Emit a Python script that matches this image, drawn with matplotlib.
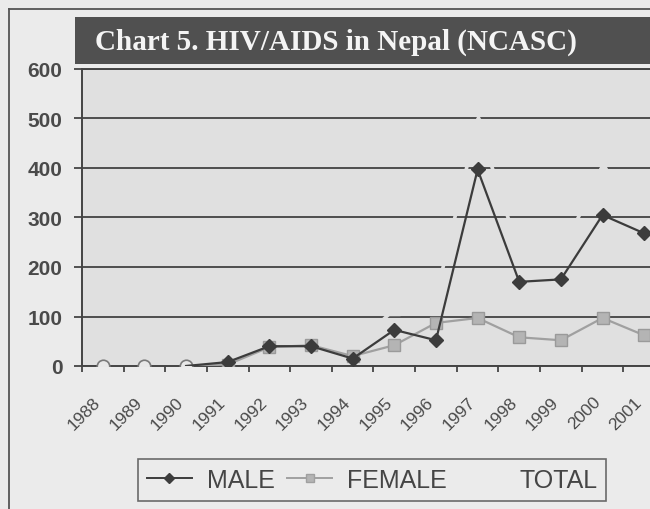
import matplotlib
matplotlib.use("Agg")
import matplotlib.pyplot as plt
from matplotlib.lines import Line2D
from matplotlib.patches import Rectangle

# data
years = ["1988", "1989", "1990", "1991", "1992", "1993", "1994",
         "1995", "1996", "1997", "1998", "1999", "2000", "2001"]
male = [None, None, 0, 8, 40, 40, 15, 73, 52, 397, 170, 175, 305, 268]
female = [None, None, 0, 3, 38, 42, 20, 42, 87, 97, 58, 52, 97, 62]
total = [0, 0, 0, 11, 78, 82, 35, 115, 139, 494, 228, 227, 402, 330]
yticks = [0, 100, 200, 300, 400, 500, 600]

plt.rcParams["font.family"] = ["Liberation Sans", "DejaVu Sans"]

fig = plt.figure(figsize=(6.5, 5.1), dpi=100)
fig.patch.set_facecolor("#ebebeb")

# outer frame of the scanned chart (left and top edges only visible)
fig.add_artist(Line2D([9 / 650, 9 / 650], [0, 1 - 10 / 510], color="#555555", lw=1.3))
fig.add_artist(Line2D([9 / 650, 1], [1 - 10 / 510, 1 - 10 / 510], color="#555555", lw=1.3))

# title banner
fig.add_artist(Rectangle((75 / 650, 1 - 65 / 510), 1, 47 / 510, transform=fig.transFigure,
                         facecolor="#505050", edgecolor="none"))
fig.text(95 / 650, 1 - 42 / 510, "Chart 5. HIV/AIDS in Nepal (NCASC)", color="#f4f4f4",
         family=["Liberation Serif", "DejaVu Serif"], fontweight="bold", fontsize=21,
         va="center", ha="left")

bg = "#e0e0e0"
ax = fig.add_axes([82 / 650, 1 - 367 / 510, 583 / 650, 297 / 510])
ax.set_facecolor(bg)
x = list(range(len(years)))

ax.set_ylim(0, 600)
ax.set_xlim(-0.5, len(years) - 0.5)
ax.set_yticks(yticks)
ax.set_yticklabels([str(v) for v in yticks], fontsize=15, fontweight="bold", color="#4a4a4a")
ax.yaxis.grid(True, color="#4e4e4e", lw=1.4)
ax.set_axisbelow(True)

# rotated labels sit a little left of each category centre, as in the scan
ax.set_xticks([i - 0.24 for i in x])
ax.set_xticklabels(years, rotation=45, ha="right", va="top", rotation_mode="anchor",
                   fontsize=12.5, color="#4a4a4a")
ax.set_xticks([i - 0.5 for i in range(len(years) + 1)], minor=True)
ax.tick_params(axis="x", which="major", length=0, pad=20)
ax.tick_params(axis="x", which="minor", length=4.5, width=1.3, color="#444444")
ax.tick_params(axis="y", length=6, width=1.3, color="#444444", pad=8)

for side in ["left", "bottom", "top"]:
    ax.spines[side].set_color("#444444")
    ax.spines[side].set_linewidth(1.4)
ax.spines["right"].set_visible(False)

# TOTAL was printed in the background colour: it only shows where it cuts the gridlines
ax.plot(x, total, color=bg, lw=2.6, marker="^", ms=9, mfc=bg, mec=bg,
        label="TOTAL", zorder=2)
ax.plot(x[:3], total[:3], ls="none", marker="o", ms=9, mfc="#e8e8e8", mec="#7a7a7a",
        mew=1.2, zorder=2.6)
ax.plot(x, female, color="#a0a0a0", lw=1.6, marker="s", ms=8, mfc="#b4b4b4", mec="#9a9a9a",
        markevery=list(range(3, len(years))), label="FEMALE", zorder=4)
ax.plot(x, male, color="#3c3c3c", lw=1.6, marker="D", ms=7.5, mfc="#3c3c3c", mec="#3c3c3c",
        markevery=list(range(3, len(years))), label="MALE", zorder=5)

legend_handles = [
    Line2D([], [], color="#3c3c3c", lw=1.4, marker="D", ms=5.5, mfc="#3c3c3c", mec="#3c3c3c"),
    Line2D([], [], color="#a0a0a0", lw=1.4, marker="s", ms=5.5, mfc="#b4b4b4", mec="#a0a0a0"),
    Line2D([], [], color="#ebebeb", lw=1.4),
]
leg = fig.legend(legend_handles, ["MALE", "FEMALE", "TOTAL"],
                 loc="center", bbox_to_anchor=(372 / 650, 1 - 481 / 510), ncol=3,
                 fontsize=18, frameon=True, fancybox=False, handlelength=1.8,
                 columnspacing=0.5, handletextpad=0.6, borderpad=0.35, borderaxespad=0)
leg.get_frame().set_edgecolor("#4a4a4a")
leg.get_frame().set_facecolor("#ebebeb")
leg.get_frame().set_linewidth(1.2)
for t in leg.get_texts():
    t.set_color("#454545")

fig.savefig("out.png", dpi=100)
